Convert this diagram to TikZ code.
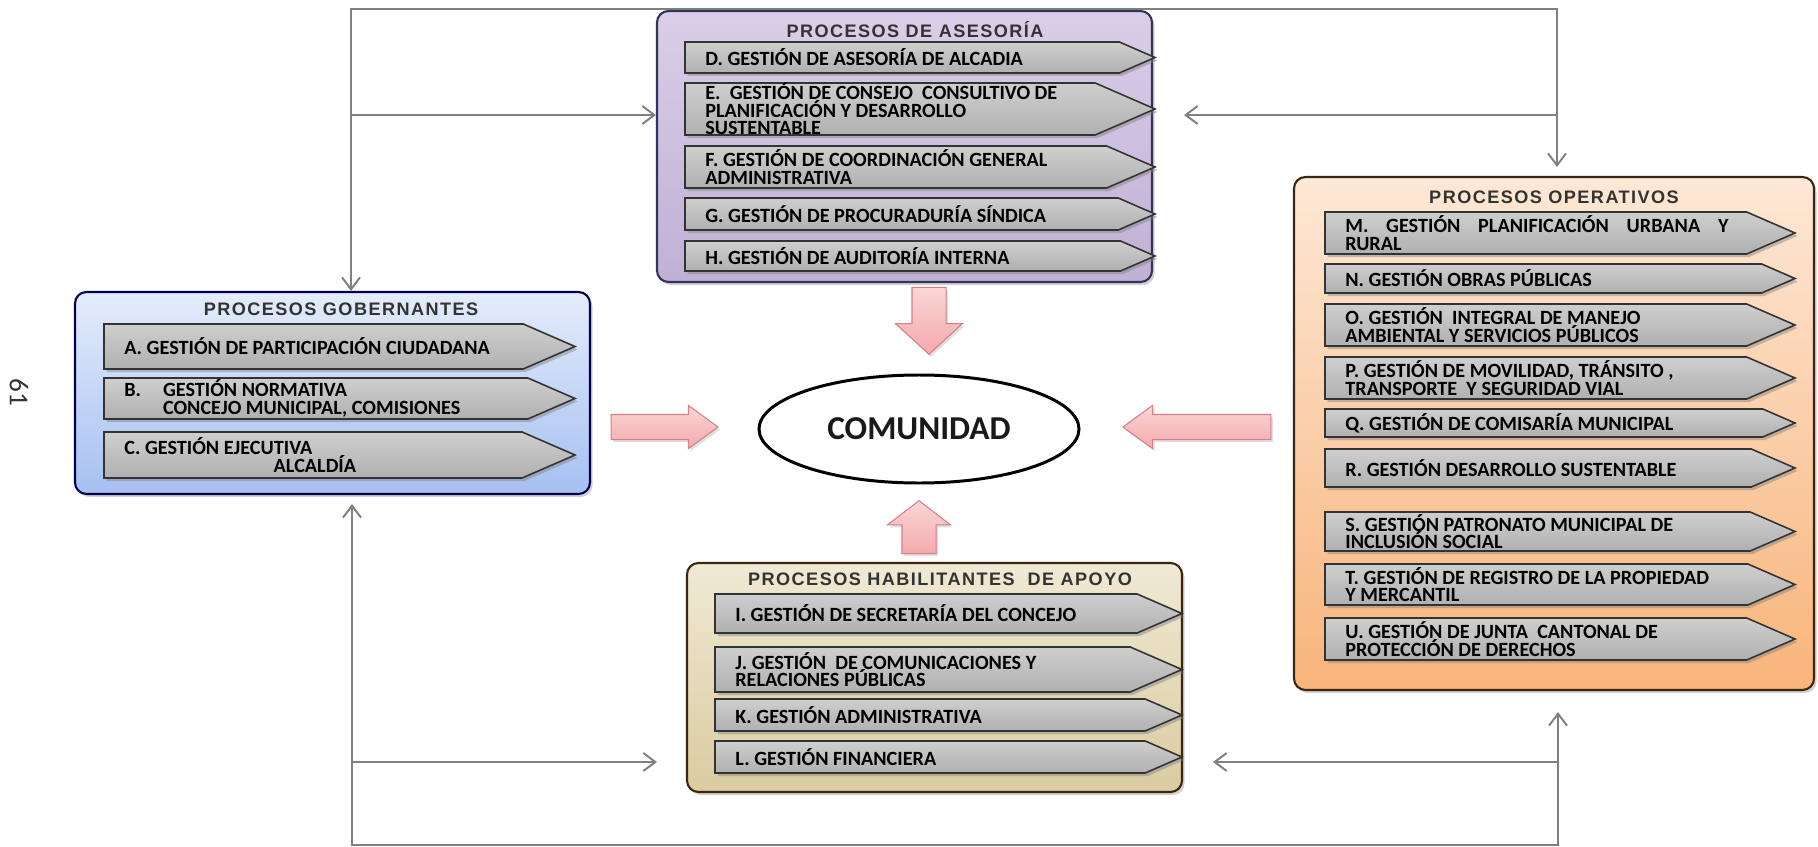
\documentclass[tikz,border=0pt]{standalone}
\usepackage{fontspec}
\setmainfont{Carlito}
\newfontfamily\titlefont[LetterSpace=8]{Liberation Sans}
\usetikzlibrary{arrows.meta, positioning, fit, shapes.geometric, shapes.arrows, shadows}
\colorlet{linkgray}{black!50}
\colorlet{itemedge}{black!80}
\definecolor{pinktop}{RGB}{251,214,214}
\definecolor{pinkbot}{RGB}{243,170,172}
\definecolor{pinkedge}{RGB}{214,128,134}

\tikzset{
  grp/.style={line width=1.2pt, rounded corners=6.5pt, inner sep=0pt,
    drop shadow={shadow xshift=0.5mm, shadow yshift=-0.6mm, opacity=.35}},
  grptitle/.style={font=\titlefont\bfseries\fontsize{10.3}{11}\selectfont, text=black!80},
  itembox/.style={draw=itemedge, line width=0.9pt, top color=gray!38, middle color=gray!4, bottom color=gray!62,
    drop shadow={shadow xshift=0.5mm, shadow yshift=-0.6mm, opacity=.45}},
  itemtext/.style={anchor=west, inner sep=0pt, align=left, text=black,
    font=\fontsize{11.5}{10}\selectfont\bfseries},
  fatarrow/.style={single arrow, draw=pinkedge, line width=0.6pt, top color=pinktop, bottom color=pinkbot,
    inner xsep=0pt, single arrow tip angle=90, anchor=tip,
    drop shadow={shadow xshift=0.4mm, shadow yshift=-0.5mm, opacity=.25}},
  link/.style={draw=linkgray, line width=1.1pt},
  barb/.tip={Straight Barb[length=2.4mm, width=3.6mm]}
}

% item: [options]{name}{left}{top}{bottom}{tip}{text}
\newcommand{\procitem}[7][]{%
  \draw[itembox] (#3,#4) -- ({#6-1.15*(#5-#4)},#4) -- (#6,{(#4+#5)/2})
    -- ({#6-1.15*(#5-#4)},#5) -- (#3,#5) -- cycle;
  \node[itemtext,#1] (#2) at ({#3+20},{(#4+#5)/2}) {#7};
}

\begin{document}
\begin{tikzpicture}[x=0.2mm, y=-0.2mm]
  \useasboundingbox (0,0) rectangle (1818,847);

  \node[rotate=-90, font=\fontsize{15.5}{16}\selectfont, text=black!80] (pagenum) at (19,392) {61};

  % loop lines
  \coordinate (tl) at (351,9);
  \coordinate (tr) at (1557,9);
  \coordinate (ml) at (351,115);
  \coordinate (mr) at (1557,115);
  \coordinate (bl) at (352,845);
  \coordinate (br) at (1558,845);
  \coordinate (hl) at (352,762);
  \coordinate (hr) at (1558,762);

  % group boxes
  \node[grp, draw=black!75!blue!60!gray, top color={rgb,255:red,218;green,206;blue,232},
    bottom color={rgb,255:red,192;green,176;blue,214}, fit={(657,11) (1152,282)}] (ases) {};
  \node[grp, draw=black!70!blue, top color={rgb,255:red,228;green,236;blue,251},
    bottom color={rgb,255:red,166;green,192;blue,241}, fit={(75,292) (590,494)}] (gob) {};
  \node[grp, draw=black!70!brown, top color={rgb,255:red,253;green,232;blue,214},
    bottom color={rgb,255:red,248;green,180;blue,122}, fit={(1294,177) (1814,690)}] (oper) {};
  \node[grp, draw=black!70!brown, top color={rgb,255:red,240;green,233;blue,212},
    bottom color={rgb,255:red,218;green,203;blue,160}, fit={(687,563) (1182,792)}] (hab) {};

  \draw[link, barb-barb, shorten >=1.8mm] (gob.north -| tl) -- (tl) -- (tr) -- (oper.north -| tr);
  \draw[link, -barb] (ml) -- (ml -| ases.west);
  \draw[link, -barb, shorten >=6.2mm] (mr) -- (mr -| ases.east);
  \draw[link, barb-barb, shorten <=1.8mm, shorten >=4.2mm] (gob.south -| bl) -- (bl) -- (br) -- (oper.south -| br);
  \draw[link, -barb, shorten >=5.8mm] (hl) -- (hl -| hab.west);
  \draw[link, -barb, shorten >=6mm] (hr) -- (hr -| hab.east);

  \node[grptitle] (asestitle) at (915,30) {PROCESOS DE ASESORÍA};
  \node[grptitle] (gobtitle) at (341,309) {PROCESOS GOBERNANTES};
  \node[grptitle] (opertitle) at (1554,197) {PROCESOS OPERATIVOS};
  \node[grptitle] (habtitle) at (940,579) {PROCESOS HABILITANTES~ DE APOYO};

  \procitem{itd}{685}{42}{73}{1155}{D. GESTIÓN DE ASESORÍA DE ALCADIA}
  \procitem{ite}{685}{83}{135}{1155}{E.~ GESTIÓN DE CONSEJO~ CONSULTIVO DE\\PLANIFICACIÓN Y DESARROLLO\\SUSTENTABLE}
  \procitem{itf}{685}{146}{188}{1155}{F. GESTIÓN DE COORDINACIÓN GENERAL\\ADMINISTRATIVA}
  \procitem{itg}{685}{198}{230}{1155}{G. GESTIÓN DE PROCURADURÍA SÍNDICA}
  \procitem{ith}{685}{241}{271}{1155}{H. GESTIÓN DE AUDITORÍA INTERNA}

  \procitem{ita}{104}{324}{369}{575}{A. GESTIÓN DE PARTICIPACIÓN CIUDADANA}
  \procitem{itb}{104}{378}{419}{575}{\makebox[22pt][l]{B.}GESTIÓN NORMATIVA\\\hspace*{22pt}CONCEJO MUNICIPAL, COMISIONES}
  \procitem{itc}{104}{432}{478}{575}{C. GESTIÓN EJECUTIVA\\\hspace*{85pt}ALCALDÍA}

  \procitem[text width=218pt]{itm}{1325}{212}{254}{1795}{M.\hfill GESTIÓN\hfill PLANIFICACIÓN\hfill URBANA\hfill Y\\RURAL}
  \procitem{itn}{1325}{264}{293}{1795}{N. GESTIÓN OBRAS PÚBLICAS}
  \procitem{ito}{1325}{304}{346}{1795}{O. GESTIÓN~ INTEGRAL DE MANEJO\\AMBIENTAL Y SERVICIOS PÚBLICOS}
  \procitem{itp}{1325}{357}{399}{1795}{P. GESTIÓN DE MOVILIDAD, TRÁNSITO ,\\TRANSPORTE~ Y SEGURIDAD VIAL}
  \procitem{itq}{1325}{409}{437}{1795}{Q. GESTIÓN DE COMISARÍA MUNICIPAL}
  \procitem{itr}{1325}{449}{487}{1795}{R. GESTIÓN DESARROLLO SUSTENTABLE}
  \procitem{its}{1325}{512}{551}{1795}{S. GESTIÓN PATRONATO MUNICIPAL DE\\INCLUSIÓN SOCIAL}
  \procitem{itt}{1325}{564}{605}{1795}{T. GESTIÓN DE REGISTRO DE LA PROPIEDAD\\Y MERCANTIL}
  \procitem{itu}{1325}{618}{660}{1795}{U. GESTIÓN DE JUNTA~ CANTONAL DE\\PROTECCIÓN DE DERECHOS}

  \procitem{iti}{715}{594}{633}{1182}{I. GESTIÓN DE SECRETARÍA DEL CONCEJO}
  \procitem{itj}{715}{647}{692}{1182}{J. GESTIÓN~ DE COMUNICACIONES Y\\RELACIONES PÚBLICAS}
  \procitem{itk}{715}{699}{731}{1182}{K. GESTIÓN ADMINISTRATIVA}
  \procitem{itl}{715}{741}{773}{1182}{L. GESTIÓN FINANCIERA}

  % centre
  \node[ellipse, draw=black, line width=1.7pt, minimum width=64mm, minimum height=21.6mm,
    font=\fontsize{19}{20}\selectfont\bfseries, text=black!90] (com) at (919,429) {COMUNIDAD};

  \node[fatarrow, minimum height=21.4mm, minimum width=8.4mm, inner ysep=2.4mm,
    single arrow head extend=1.8mm, single arrow tip angle=72] (fatgob) at (719,427) {};
  \node[fatarrow, rotate=180, minimum height=29.6mm, minimum width=8.4mm, inner ysep=2.4mm,
    single arrow head extend=1.8mm, single arrow tip angle=72] (fatoper) at (1122,427) {};
  \node[fatarrow, rotate=-90, minimum height=13.4mm, minimum width=13.2mm, inner ysep=3.3mm,
    single arrow head extend=3.3mm, single arrow tip angle=95] (fatases) at (929,355) {};
  \node[fatarrow, rotate=90, minimum height=10.6mm, minimum width=12.4mm, inner ysep=3.3mm,
    single arrow head extend=2.9mm, single arrow tip angle=105] (fathab) at (919,500) {};
\end{tikzpicture}
\end{document}
